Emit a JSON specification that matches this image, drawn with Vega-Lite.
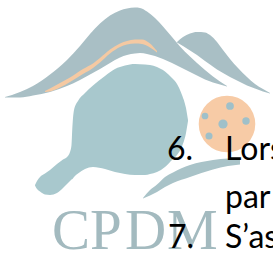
{
  "$schema": "https://vega.github.io/schema/vega-lite/v6.json",
  "width": 273,
  "height": 262,
  "autosize": {"type": "none"},
  "padding": 0,
  "background": "white",
  "config": {"view": {"stroke": null}},
  "datasets": {
    "roof": [
      {"x": 5, "y": 97, "y2": 97.5}, {"x": 12, "y": 95, "y2": 97.5}, {"x": 20, "y": 92, "y2": 97.5},
      {"x": 33, "y": 86, "y2": 95.5}, {"x": 50, "y": 74.5, "y2": 92}, {"x": 67, "y": 60, "y2": 86},
      {"x": 80, "y": 46, "y2": 80}, {"x": 90, "y": 34, "y2": 74.5}, {"x": 100, "y": 23.5, "y2": 69},
      {"x": 110, "y": 15.5, "y2": 63}, {"x": 120, "y": 10.5, "y2": 57.5}, {"x": 127, "y": 8.5, "y2": 55},
      {"x": 135, "y": 7.5, "y2": 53.5}, {"x": 140, "y": 8, "y2": 53}, {"x": 147, "y": 11.5, "y2": 54},
      {"x": 155, "y": 18, "y2": 56}, {"x": 163, "y": 26.5, "y2": 59}, {"x": 172, "y": 37, "y2": 63},
      {"x": 180, "y": 46.5, "y2": 67}, {"x": 190, "y": 56.5, "y2": 72}, {"x": 197, "y": 63, "y2": 75.5},
      {"x": 205, "y": 70, "y2": 79.5}, {"x": 213, "y": 76.5, "y2": 82.5}, {"x": 220, "y": 81.5, "y2": 84.5},
      {"x": 227, "y": 86, "y2": 86.5}
    ],
    "stripe": [
      {"x": 45, "y": 91, "y2": 92}, {"x": 50, "y": 88.5, "y2": 91.5}, {"x": 60, "y": 83, "y2": 87.5},
      {"x": 70, "y": 77.5, "y2": 82}, {"x": 83, "y": 69, "y2": 74}, {"x": 93, "y": 63.5, "y2": 68},
      {"x": 100, "y": 58, "y2": 62.5}, {"x": 110, "y": 49.5, "y2": 53.5}, {"x": 120, "y": 43.5, "y2": 47},
      {"x": 127, "y": 41, "y2": 44.5}, {"x": 135, "y": 39.5, "y2": 43.5}, {"x": 142, "y": 39.5, "y2": 44},
      {"x": 150, "y": 43.5, "y2": 47.5}, {"x": 157, "y": 51, "y2": 52.5}
    ],
    "wing": [
      {"x": 177, "y": 42, "y2": 42.5}, {"x": 183, "y": 37, "y2": 46}, {"x": 190, "y": 33.5, "y2": 50.5},
      {"x": 197, "y": 32, "y2": 55}, {"x": 205, "y": 32.5, "y2": 61}, {"x": 210, "y": 35, "y2": 64.5},
      {"x": 217, "y": 42, "y2": 69.5}, {"x": 223, "y": 50, "y2": 73}, {"x": 230, "y": 59, "y2": 77},
      {"x": 238, "y": 68, "y2": 81}, {"x": 247, "y": 77, "y2": 85.5}, {"x": 255, "y": 84, "y2": 88.5},
      {"x": 263, "y": 89, "y2": 91.5}, {"x": 270, "y": 93, "y2": 93.5}
    ],
    "paddle": [
      {"x": 35, "y": 185, "y2": 185.5}, {"x": 37, "y": 181, "y2": 189}, {"x": 40, "y": 177, "y2": 191.5},
      {"x": 45, "y": 173.5, "y2": 194.5}, {"x": 50, "y": 170, "y2": 195}, {"x": 57, "y": 164, "y2": 193},
      {"x": 63, "y": 159.5, "y2": 188}, {"x": 67, "y": 157, "y2": 184}, {"x": 70, "y": 152, "y2": 181},
      {"x": 71.5, "y": 145, "y2": 179.5}, {"x": 72.5, "y": 125, "y2": 179}, {"x": 74, "y": 110, "y2": 177},
      {"x": 78, "y": 101, "y2": 173.5}, {"x": 85, "y": 93, "y2": 169}, {"x": 93, "y": 85.5, "y2": 167},
      {"x": 105, "y": 76, "y2": 169}, {"x": 115, "y": 69, "y2": 172}, {"x": 125, "y": 65.5, "y2": 174},
      {"x": 135, "y": 64, "y2": 175}, {"x": 145, "y": 64.5, "y2": 175}, {"x": 150, "y": 65, "y2": 174},
      {"x": 157, "y": 67, "y2": 172}, {"x": 165, "y": 71.5, "y2": 167}, {"x": 172, "y": 78, "y2": 160},
      {"x": 177, "y": 84, "y2": 155}, {"x": 182, "y": 95, "y2": 146.5}, {"x": 186, "y": 108, "y2": 133},
      {"x": 188, "y": 120, "y2": 121}
    ],
    "swoosh": [
      {"x": 143, "y": 198, "y2": 198.5}, {"x": 150, "y": 190, "y2": 195.5}, {"x": 157, "y": 184.5, "y2": 192},
      {"x": 165, "y": 177, "y2": 187}, {"x": 173, "y": 172.5, "y2": 183}, {"x": 190, "y": 165, "y2": 177},
      {"x": 213, "y": 160, "y2": 169.5}, {"x": 228, "y": 158.5, "y2": 166}, {"x": 240, "y": 158, "y2": 164.5}
    ],
    "ball": [{"x": 227, "y": 124}],
    "holes": [
      {"x": 230, "y": 106, "s": 60}, {"x": 205, "y": 116, "s": 45}, {"x": 223, "y": 124, "s": 85},
      {"x": 246, "y": 121, "s": 55}, {"x": 209, "y": 136, "s": 50}
    ],
    "letters": [
      {"x": 52, "y": 249, "t": "C"}, {"x": 90, "y": 249, "t": "P"}, {"x": 125, "y": 249, "t": "D"}, {"x": 167, "y": 249, "t": "M"}
    ],
    "lines": [
      {"x": 167, "y": 160, "t": "6."}, {"x": 225, "y": 160, "t": "Lors"},
      {"x": 225, "y": 208, "t": "par"},
      {"x": 168, "y": 248, "t": "7."}, {"x": 225, "y": 248, "t": "S’as"}
    ]
  },
  "layer": [
    {
      "data": {"name": "roof"},
      "mark": {"type": "area", "interpolate": "monotone", "color": "#a9bfc5"},
      "encoding": {
        "x": {"field": "x", "type": "quantitative", "scale": {"domain": [0, 273], "nice": false, "zero": false}, "axis": null},
        "y": {"field": "y", "type": "quantitative", "scale": {"domain": [0, 262], "nice": false, "zero": false, "reverse": true}, "axis": null},
        "y2": {"field": "y2"}
      }
    },
    {
      "data": {"name": "stripe"},
      "mark": {"type": "area", "interpolate": "monotone", "color": "#f5c9a2"},
      "encoding": {
        "x": {"field": "x", "type": "quantitative"},
        "y": {"field": "y", "type": "quantitative"},
        "y2": {"field": "y2"}
      }
    },
    {
      "data": {"name": "wing"},
      "mark": {"type": "area", "interpolate": "monotone", "color": "#a9bfc5"},
      "encoding": {
        "x": {"field": "x", "type": "quantitative"},
        "y": {"field": "y", "type": "quantitative"},
        "y2": {"field": "y2"}
      }
    },
    {
      "data": {"name": "paddle"},
      "mark": {"type": "area", "interpolate": "monotone", "color": "#a8c8cd"},
      "encoding": {
        "x": {"field": "x", "type": "quantitative"},
        "y": {"field": "y", "type": "quantitative"},
        "y2": {"field": "y2"}
      }
    },
    {
      "data": {"name": "swoosh"},
      "mark": {"type": "area", "interpolate": "monotone", "color": "#a9c3c8"},
      "encoding": {
        "x": {"field": "x", "type": "quantitative"},
        "y": {"field": "y", "type": "quantitative"},
        "y2": {"field": "y2"}
      }
    },
    {
      "data": {"name": "ball"},
      "mark": {"type": "point", "shape": "circle", "filled": true, "opacity": 1, "color": "#f7cba6", "size": 3200},
      "encoding": {
        "x": {"field": "x", "type": "quantitative"},
        "y": {"field": "y", "type": "quantitative"}
      }
    },
    {
      "data": {"name": "holes"},
      "mark": {"type": "point", "shape": "circle", "filled": true, "opacity": 1, "color": "#9fc0c9"},
      "encoding": {
        "x": {"field": "x", "type": "quantitative"},
        "y": {"field": "y", "type": "quantitative"},
        "size": {"field": "s", "type": "quantitative", "scale": {"domain": [0, 100], "range": [0, 100]}, "legend": null}
      }
    },
    {
      "data": {"name": "letters"},
      "mark": {"type": "text", "align": "left", "baseline": "alphabetic", "font": "Liberation Serif", "fontSize": 57, "color": "#a3babf"},
      "encoding": {
        "x": {"field": "x", "type": "quantitative"},
        "y": {"field": "y", "type": "quantitative"},
        "text": {"field": "t"}
      }
    },
    {
      "data": {"name": "lines"},
      "mark": {"type": "text", "align": "left", "baseline": "alphabetic", "font": "Lato", "fontSize": 32, "color": "#000000"},
      "encoding": {
        "x": {"field": "x", "type": "quantitative"},
        "y": {"field": "y", "type": "quantitative"},
        "text": {"field": "t"}
      }
    }
  ]
}
